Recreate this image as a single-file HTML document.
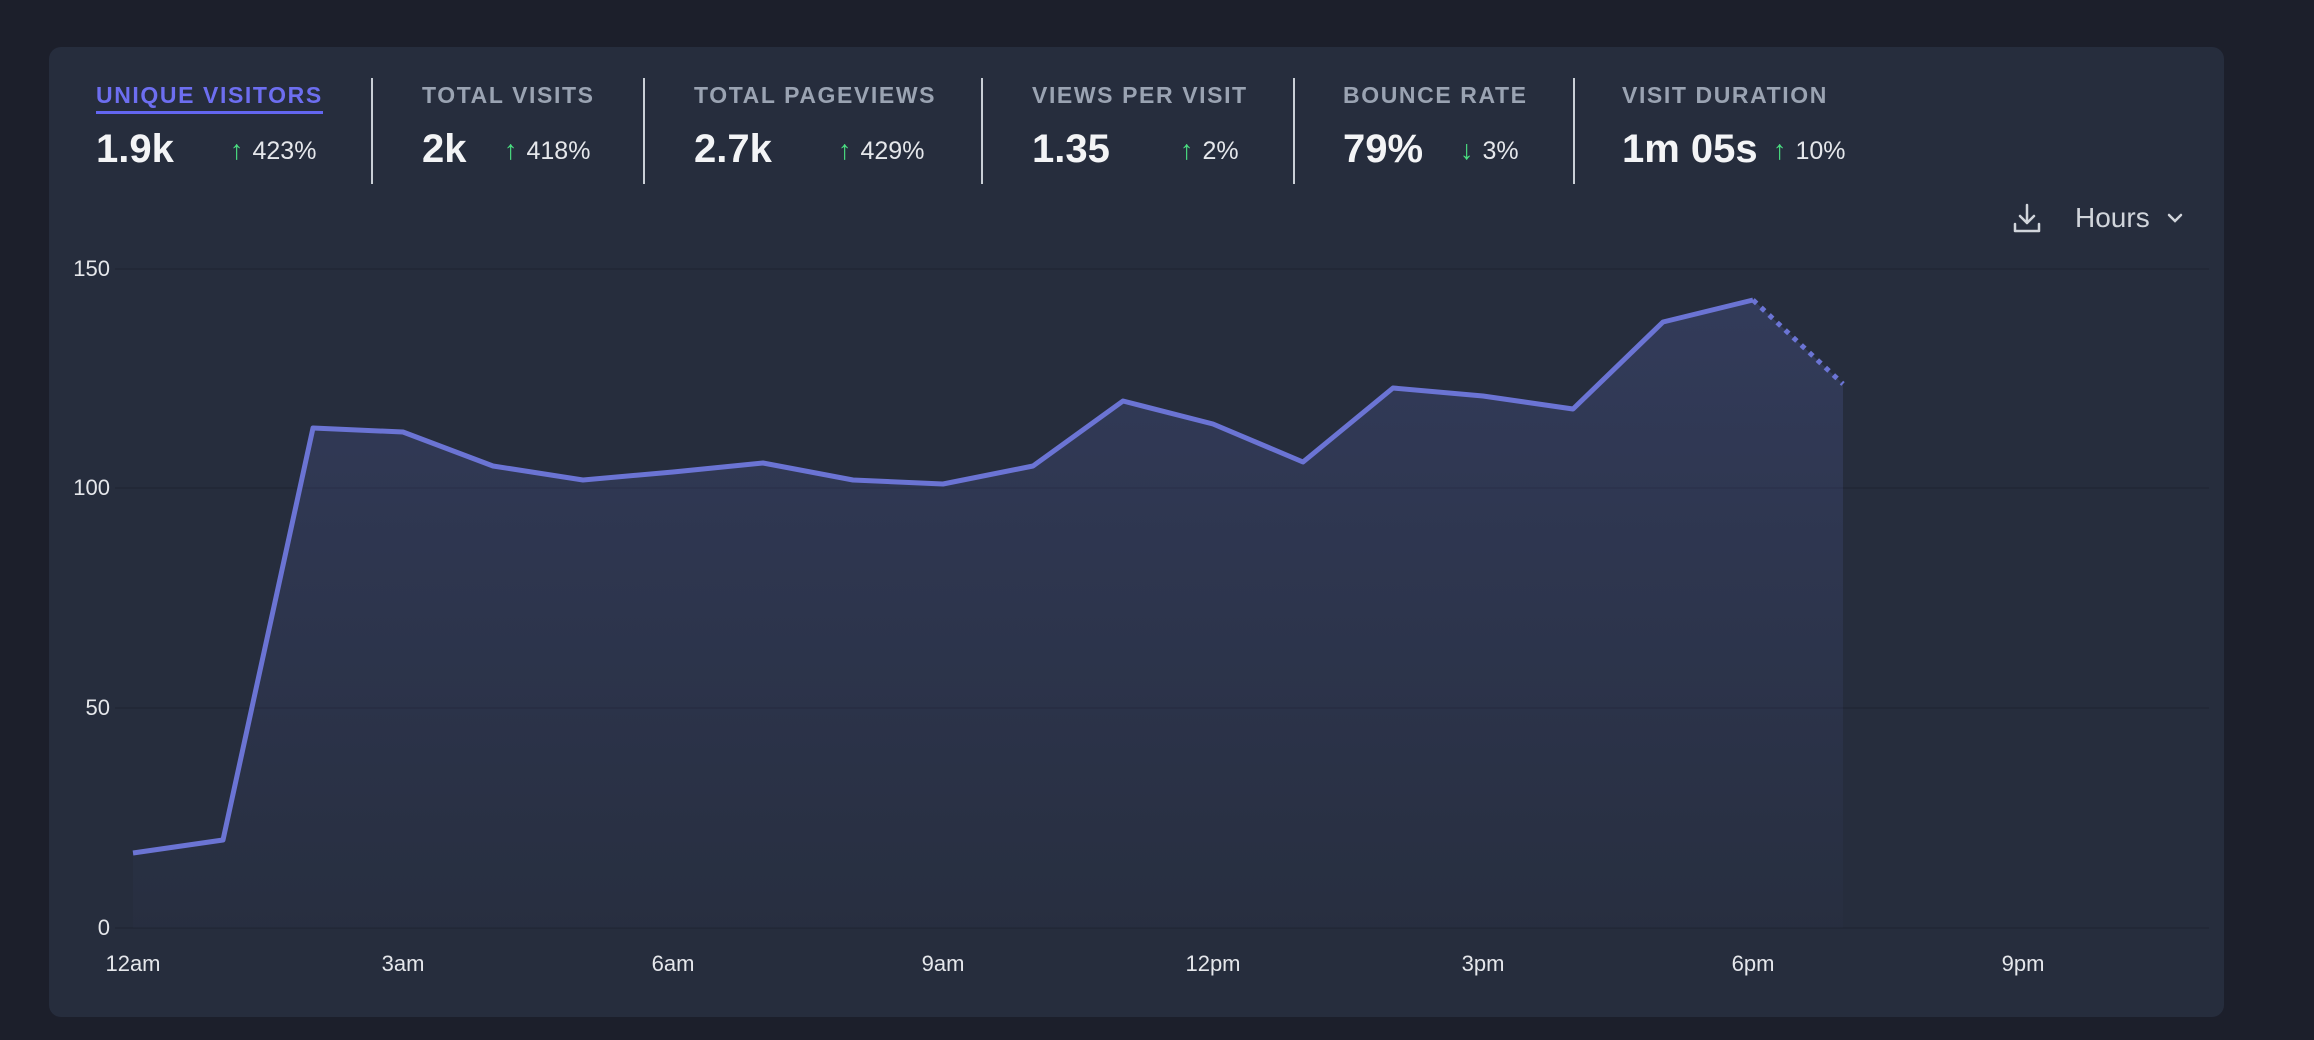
<!DOCTYPE html>
<html><head><meta charset="utf-8"><style>
body{margin:0;width:2314px;height:1040px;background:#1c1f2b;font-family:"Liberation Sans",sans-serif;overflow:hidden;position:relative}
.card{position:absolute;left:49px;top:47px;width:2175px;height:970px;background:#262d3d;border-radius:12px}
.lab{position:absolute;top:82px;font-size:23px;font-weight:bold;letter-spacing:1.6px;color:#9aa3b2;white-space:nowrap}
.val{position:absolute;top:127px;font-size:40px;font-weight:bold;color:#f3f4f6;white-space:nowrap}
.d{position:absolute;top:135px;font-size:25px;color:#e5e7eb;white-space:nowrap}
.d b{color:#4ade80;font-weight:bold;margin-right:9px;font-size:27px}
.sep{position:absolute;top:78px;width:2px;height:106px;background:#c9ced6}
.yl{position:absolute;font-size:22px;color:#e5e7eb;text-align:right;width:60px;left:50px}
.xl{position:absolute;top:951px;font-size:22px;color:#e5e7eb;width:100px;text-align:center}
</style></head><body>
<div class="card"></div>
<div class="lab" style="left:96px;color:#6d6ef0;border-bottom:3px solid #6366f1;padding-bottom:2px">UNIQUE VISITORS</div>
<div class="val" style="left:96px">1.9k</div><div class="d" style="left:230px"><b>↑</b>423%</div>
<div class="sep" style="left:371px"></div>
<div class="lab" style="left:422px">TOTAL VISITS</div>
<div class="val" style="left:422px">2k</div><div class="d" style="left:504px"><b>↑</b>418%</div>
<div class="sep" style="left:643px"></div>
<div class="lab" style="left:694px">TOTAL PAGEVIEWS</div>
<div class="val" style="left:694px">2.7k</div><div class="d" style="left:838px"><b>↑</b>429%</div>
<div class="sep" style="left:981px"></div>
<div class="lab" style="left:1032px">VIEWS PER VISIT</div>
<div class="val" style="left:1032px">1.35</div><div class="d" style="left:1180px"><b>↑</b>2%</div>
<div class="sep" style="left:1293px"></div>
<div class="lab" style="left:1343px">BOUNCE RATE</div>
<div class="val" style="left:1343px">79%</div><div class="d" style="left:1460px"><b>↓</b>3%</div>
<div class="sep" style="left:1573px"></div>
<div class="lab" style="left:1622px">VISIT DURATION</div>
<div class="val" style="left:1622px">1m 05s</div><div class="d" style="left:1773px"><b>↑</b>10%</div>
<svg style="position:absolute;left:2012px;top:202px" width="30" height="32" viewBox="0 0 30 32" fill="none" stroke="#d1d5db" stroke-width="2.5" stroke-linecap="round" stroke-linejoin="round"><path d="M15 3v18M8 14l7 7 7-7M3 22v7h24v-7"/></svg>
<div style="position:absolute;left:2075px;top:202px;font-size:28px;color:#d1d5db">Hours</div>
<svg style="position:absolute;left:2166px;top:211px" width="18" height="14" viewBox="0 0 18 14" fill="none" stroke="#d1d5db" stroke-width="2.5" stroke-linecap="round"><path d="M3 4l6 6 6-6"/></svg>
<div class="yl" style="top:256px">150</div>
<div class="yl" style="top:475px">100</div>
<div class="yl" style="top:695px">50</div>
<div class="yl" style="top:915px">0</div>
<div class="xl" style="left:83px">12am</div><div class="xl" style="left:353px">3am</div><div class="xl" style="left:623px">6am</div><div class="xl" style="left:893px">9am</div><div class="xl" style="left:1163px">12pm</div><div class="xl" style="left:1433px">3pm</div><div class="xl" style="left:1703px">6pm</div><div class="xl" style="left:1973px">9pm</div>
<svg style="position:absolute;left:0;top:0" width="2314" height="1040">
<defs><linearGradient id="g" gradientUnits="userSpaceOnUse" x1="0" y1="300" x2="0" y2="928"><stop offset="0" stop-color="#6574cd" stop-opacity="0.2"/><stop offset="1" stop-color="#6574cd" stop-opacity="0.02"/></linearGradient></defs>
<g stroke="#222837" stroke-width="2"><line x1="115" y1="269" x2="2209" y2="269"/><line x1="115" y1="488" x2="2209" y2="488"/><line x1="115" y1="708" x2="2209" y2="708"/><line x1="115" y1="928" x2="2209" y2="928"/></g>
<path fill="url(#g)" d="M133 853L223 840L313 428L403 432L493 466L583 480L673 472L763 463L853 480L943 484L1033 466L1123 401L1213 424L1303 462L1393 388L1483 396L1573 409L1663 322L1753 300L1843 384L1843 928L133 928Z"/>
<polyline fill="none" stroke="#6b74d4" stroke-width="5" stroke-linejoin="round" points="133,853 223,840 313,428 403,432 493,466 583,480 673,472 763,463 853,480 943,484 1033,466 1123,401 1213,424 1303,462 1393,388 1483,396 1573,409 1663,322 1753,300"/>
<line x1="1753" y1="300" x2="1843" y2="384" stroke="#6b74d4" stroke-width="5" stroke-dasharray="5 6"/>
</svg>
</body></html>
